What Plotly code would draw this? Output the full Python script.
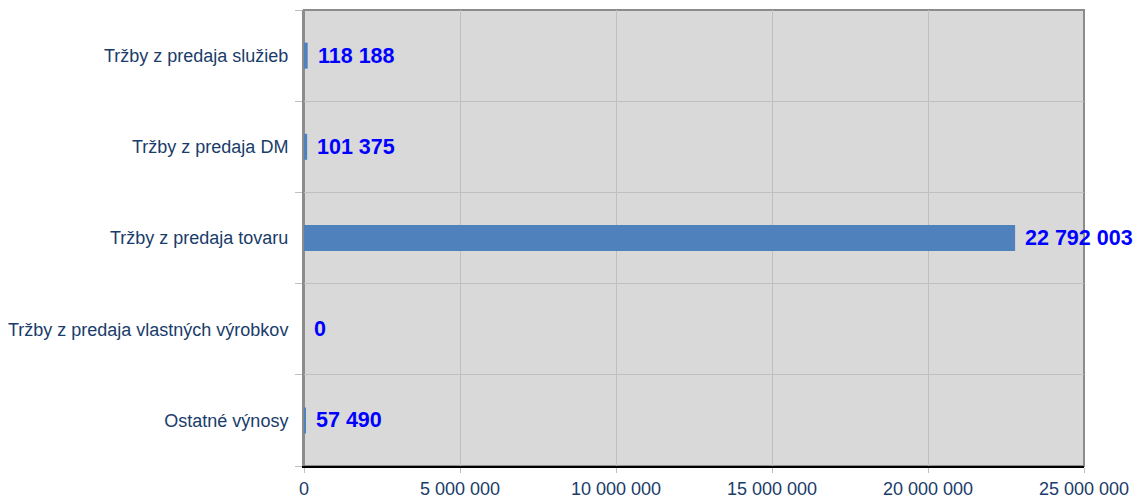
import plotly.graph_objects as go

categories = [
    "Tržby z predaja služieb",
    "Tržby z predaja DM",
    "Tržby z predaja tovaru",
    "Tržby z predaja vlastných výrobkov",
    "Ostatné výnosy",
]
values = [118188, 101375, 22792003, 0, 57490]
x_tickvals = [0, 5000000, 10000000, 15000000, 20000000, 25000000]
x_ticktext = ["0", "5 000 000", "10 000 000", "15 000 000", "20 000 000", "25 000 000"]


def fmt(v):
    return f"{v:,}".replace(",", " ")


fig = go.Figure()
fig.add_trace(go.Bar(
    x=values, y=categories, orientation="h",
    marker=dict(color="#4f81bd", line=dict(width=0)),
    width=0.285,
    hoverinfo="x+y",
))

for c, v in zip(categories, values):
    fig.add_annotation(
        x=v, y=c, text=f"<b>{fmt(v)}</b>", showarrow=False,
        xanchor="left", yanchor="middle", xshift=8,
        font=dict(family="Arial, Liberation Sans, sans-serif", size=21.5, color="#0000ff"),
    )

fig.add_shape(type="rect", xref="paper", yref="paper", x0=0, x1=1, y0=0, y1=1,
              line=dict(color="#8c8c8c", width=2), layer="below")

fig.update_layout(
    width=1135, height=498,
    margin=dict(l=304, r=51, t=10, b=32, autoexpand=False),
    plot_bgcolor="#d9d9d9", paper_bgcolor="#ffffff",
    showlegend=False,
    font=dict(family="Arial, Liberation Sans, sans-serif", size=18, color="#1a3c6a"),
)
fig.update_xaxes(
    range=[0, 25000000], tickmode="array", tickvals=x_tickvals, ticktext=x_ticktext,
    showgrid=True, gridcolor="#bfbfbf", gridwidth=1,
    showline=True, linecolor="#000000", linewidth=2,
    ticks="outside", ticklen=5, tickcolor="#bfbfbf",
    zeroline=False, fixedrange=True, automargin=False,
    tickfont=dict(size=18, color="#1a3c6a"),
)
fig.update_yaxes(
    type="category", categoryorder="array", categoryarray=categories[::-1],
    tickson="boundaries", showgrid=True, gridcolor="#bfbfbf", gridwidth=1,
    showline=True, linecolor="#8c8c8c", linewidth=2,
    ticks="outside", ticklen=7, tickcolor="#bfbfbf",
    ticksuffix="  ", tickfont=dict(size=18, color="#1a3c6a"),
    fixedrange=True, automargin=False,
)

fig.write_html(
    "out.html",
    config={"displayModeBar": False},
    post_script="document.body.style.margin='0';document.body.style.overflow='hidden';",
)
